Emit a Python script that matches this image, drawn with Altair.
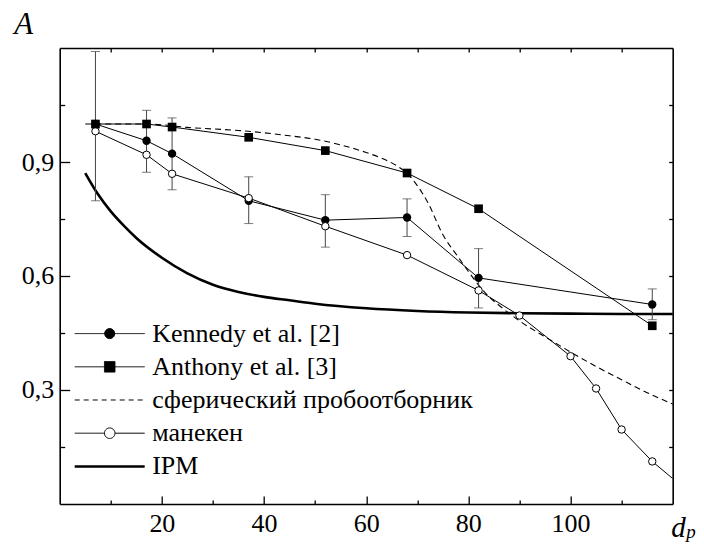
import altair as alt
import pandas as pd

# ---------------- data ----------------
kennedy_x = [7, 17, 22, 37, 52, 68, 82, 116]
kennedy_y = [1.0, 0.956, 0.922, 0.798, 0.747, 0.754, 0.595, 0.525]
kennedy_lo = [0.798, 0.873, 0.827, 0.738, 0.676, 0.704, 0.516, 0.485]
kennedy_hi = [1.191, 1.036, 1.016, 0.861, 0.814, 0.803, 0.672, 0.566]

anthony_x = [7, 17, 22, 37, 52, 68, 82, 116]
anthony_y = [1.0, 1.0, 0.992, 0.965, 0.930, 0.871, 0.777, 0.469]

manekin_x = [7, 17, 22, 37, 52, 68, 82, 90, 100, 105, 110, 116]
manekin_y = [0.981, 0.919, 0.869, 0.805, 0.731, 0.655, 0.562, 0.496, 0.389, 0.304, 0.196, 0.112]
# the connecting line runs on to the frame
manekin_tail_x = [120]
manekin_tail_y = [0.067]

sphere_x = [5, 10, 15, 20, 25, 30, 35, 40, 45, 50, 55, 60, 63, 66, 68, 70, 72, 75,
            78, 80, 83, 87, 90, 95, 100, 105, 110, 115, 120]
sphere_y = [1.0, 1.0, 1.0, 0.998, 0.991, 0.987, 0.983, 0.977, 0.969, 0.960, 0.945,
            0.925, 0.910, 0.890, 0.870, 0.838, 0.795, 0.709, 0.650, 0.612, 0.560,
            0.512, 0.482, 0.440, 0.400, 0.362, 0.327, 0.293, 0.263]

ipm_x = [5, 7.5, 10, 12.5, 15, 20, 25, 30, 35, 40, 45, 50, 60, 70, 80, 90, 100, 110, 120]
ipm_y = [0.871, 0.815, 0.770, 0.733, 0.700, 0.648, 0.607, 0.577, 0.558, 0.545, 0.536,
         0.527, 0.515, 0.508, 0.504, 0.502, 0.501, 0.500, 0.500]

x_tick_values = [10, 20, 30, 40, 50, 60, 70, 80, 90, 100, 110]
y_tick_values = [0.15, 0.3, 0.45, 0.6, 0.75, 0.9, 1.05]

legend_names = ["Kennedy et al. [2]", "Anthony et al. [3]",
                "сферический пробоотборник", "манекен", "IPM"]
legend_paths = [
    "M-1,0H1M-0.143,0A0.143,0.143,0,1,0,0.143,0A0.143,0.143,0,1,0,-0.143,0Z",
    "M-1,0H1M-0.15,-0.15H0.15V0.15H-0.15Z",
    "M-1,0H1",
    "M-1,0H-0.15M0.15,0H1M-0.15,0A0.15,0.15,0,1,0,0.15,0A0.15,0.15,0,1,0,-0.15,0Z",
    "M-1,0H1",
]
legend_fills = ["black", "black", "transparent", "white", "transparent"]
legend_dashes = [[1, 0], [1, 0], [5, 4], [1, 0], [1, 0]]
legend_widths = [1, 1, 1, 1, 2.5]

# ---------------- tables ----------------
ken_df = pd.DataFrame({"x": kennedy_x, "y": kennedy_y, "lo": kennedy_lo, "hi": kennedy_hi})
ant_df = pd.DataFrame({"x": anthony_x, "y": anthony_y})
man_df = pd.DataFrame({"x": manekin_x, "y": manekin_y})
man_line_df = pd.DataFrame({"x": manekin_x + manekin_tail_x, "y": manekin_y + manekin_tail_y})
sph_df = pd.DataFrame({"x": sphere_x, "y": sphere_y})
ipm_df = pd.DataFrame({"x": ipm_x, "y": ipm_y})
leg_df = pd.DataFrame({"series": legend_names})

FONT = "Liberation Serif"
xs = alt.Scale(domain=[0, 120], nice=False, zero=False)
ys = alt.Scale(domain=[0, 1.2], nice=False, zero=False)

x_major = "datum.value % 20 == 0"
y_major = "abs(datum.value * 10 - round(datum.value * 10)) < 0.001"

common_axis = dict(domainColor="black", domainWidth=1.6, tickColor="black",
                   tickWidth=1.3, grid=False, labelOverlap=False)

x_bottom = alt.Axis(
    orient="bottom", values=x_tick_values,
    labelExpr=f"{x_major} ? datum.value : ''",
    tickSize={"condition": {"test": x_major, "value": -8}, "value": -4},
    labelPadding=15, labelFont=FONT, labelFontSize=26, labelColor="black",
    title="d", titleFont=FONT, titleFontSize=29, titleFontStyle="italic",
    titleFontWeight="normal", titleColor="black", titleAlign="left",
    titleBaseline="alphabetic", titleX=611, titleY=33, titleAngle=0,
    **common_axis)
y_left = alt.Axis(
    orient="left", values=y_tick_values,
    labelExpr=f"{y_major} ? replace(format(datum.value, '.1f'), '.', ',') : ''",
    tickSize={"condition": {"test": y_major, "value": -10}, "value": -5},
    labelPadding=16, labelFont=FONT, labelFontSize=26, labelColor="black",
    title="A", titleFont=FONT, titleFontSize=31, titleFontStyle="italic",
    titleFontWeight="normal", titleColor="black", titleAlign="center",
    titleBaseline="alphabetic", titleX=-36.5, titleY=-14.2, titleAngle=0,
    **common_axis)
x_top = alt.Axis(
    orient="top", values=x_tick_values, labels=False, tickSize=alt.ExprRef("-4"),
    title="p", titleFont=FONT, titleFontSize=19, titleFontStyle="italic",
    titleFontWeight="normal", titleColor="black", titleAlign="left",
    titleBaseline="alphabetic", titleX=626, titleY=490, titleAngle=0,
    **common_axis)
y_right = alt.Axis(
    orient="right", values=y_tick_values, labels=False, tickSize=alt.ExprRef("-4"),
    title=None, **common_axis)


def X(axis=None, field="x"):
    return alt.X(f"{field}:Q", scale=xs, axis=axis)


def Y(axis=None, field="y"):
    return alt.Y(f"{field}:Q", scale=ys, axis=axis)


ipm_layer = alt.Chart(ipm_df).mark_line(color="black", strokeWidth=2.6,
                                         interpolate="monotone").encode(x=X(x_bottom), y=Y(y_left))
sph_layer = alt.Chart(sph_df).mark_line(color="black", strokeWidth=1.1, strokeDash=[6, 4],
                                         interpolate="monotone").encode(x=X(x_top), y=Y(y_right))
ant_line = alt.Chart(ant_df).mark_line(color="black", strokeWidth=1).encode(x=X(), y=Y())
ken_line = alt.Chart(ken_df).mark_line(color="black", strokeWidth=1).encode(x=X(), y=Y())
man_line = alt.Chart(man_line_df).mark_line(color="black", strokeWidth=1, clip=True).encode(x=X(), y=Y())

err_rule = alt.Chart(ken_df).mark_rule(color="#444", strokeWidth=1).encode(
    x=X(), y=Y(field="lo"), y2="hi:Q")
err_lo = alt.Chart(ken_df).mark_tick(orient="horizontal", color="#444", thickness=1, size=9).encode(
    x=X(), y=Y(field="lo"))
err_hi = alt.Chart(ken_df).mark_tick(orient="horizontal", color="#444", thickness=1, size=9).encode(
    x=X(), y=Y(field="hi"))

ken_pts = alt.Chart(ken_df).mark_point(shape="circle", filled=True, color="black", size=70,
                                       opacity=1).encode(x=X(), y=Y())
man_pts = alt.Chart(man_df).mark_point(shape="circle", filled=True, fill="white", stroke="black",
                                       strokeWidth=1, size=55, opacity=1).encode(x=X(), y=Y())
ant_pts = alt.Chart(ant_df).mark_point(shape="square", filled=True, color="black", size=75,
                                       opacity=1).encode(x=X(), y=Y())

leg = alt.Legend(orient="none", legendX=13.5, legendY=271.6, title=None, padding=0,
                 clipHeight=28, rowPadding=5.2, symbolSize=4900, symbolOpacity=1,
                 labelFont=FONT, labelFontSize=26, labelColor="black", labelOffset=6,
                 labelLimit=0)
legend_layer = alt.Chart(leg_df).transform_filter("false").mark_point(
    filled=True, stroke="black", opacity=1).encode(
    shape=alt.Shape("series:N", scale=alt.Scale(domain=legend_names, range=legend_paths), legend=leg),
    fill=alt.Fill("series:N", scale=alt.Scale(domain=legend_names, range=legend_fills), legend=leg),
    strokeDash=alt.StrokeDash("series:N", scale=alt.Scale(domain=legend_names, range=legend_dashes), legend=leg),
    strokeWidth=alt.StrokeWidth("series:N", scale=alt.Scale(type="ordinal", domain=legend_names,
                                                            range=legend_widths), legend=leg),
)

chart = alt.layer(
    ipm_layer, sph_layer, ant_line, ken_line, man_line,
    err_rule, err_lo, err_hi, ken_pts, man_pts, ant_pts, legend_layer
).resolve_axis(x="independent", y="independent").properties(
    width=613, height=456,
    padding={"left": 5.7, "top": 0, "right": 0, "bottom": 0},
).configure_view(strokeWidth=0)

chart.save("out.html", embed_options={"renderer": "svg", "actions": False})
